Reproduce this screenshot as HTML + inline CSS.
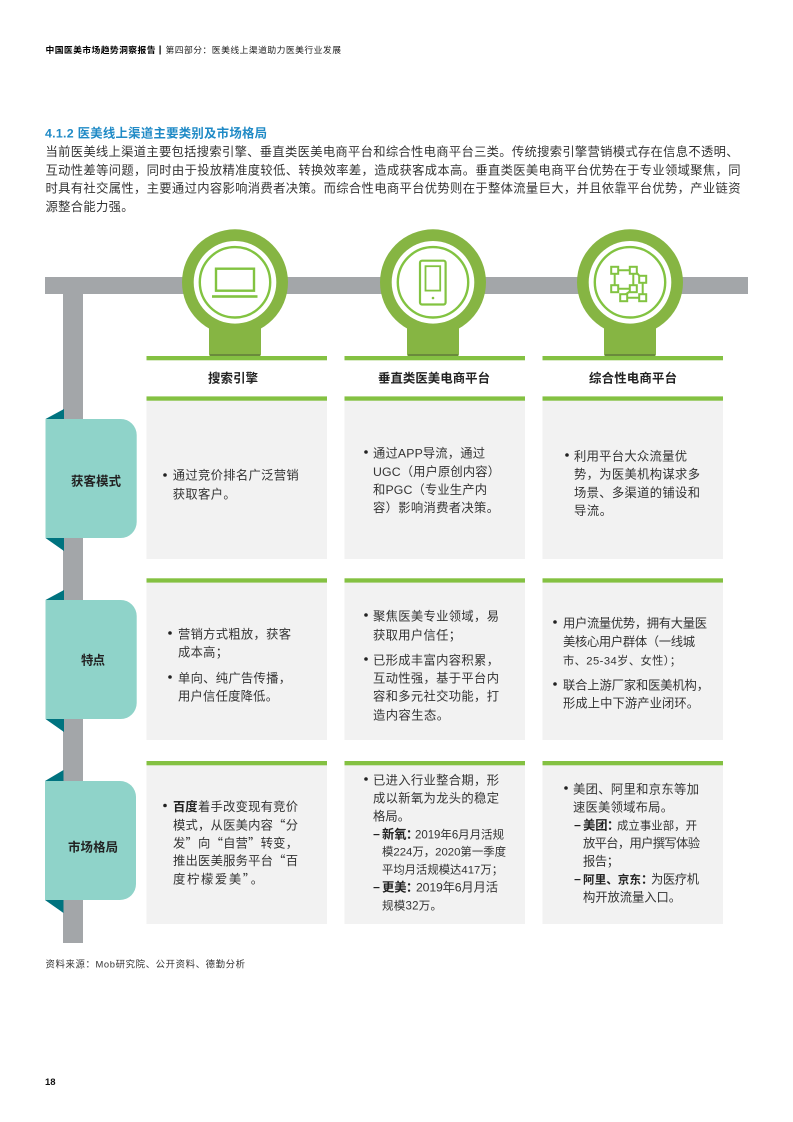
<!DOCTYPE html>
<html lang="zh-CN"><head><meta charset="utf-8"><title>4.1.2</title>
<style>
html,body{margin:0;padding:0;background:#fff}
svg{display:block}
text{font-family:"Liberation Sans","Noto Sans CJK SC",sans-serif;font-size:12.3px;fill:#333;white-space:pre}
.b{font-weight:700;fill:#222}
.h{font-weight:700;fill:#222;font-size:12.4px}
.cn{font-family:"Noto Sans CJK SC",sans-serif}
</style></head><body>
<svg xmlns="http://www.w3.org/2000/svg" width="793" height="1122" viewBox="0 0 793 1122">
<rect width="793" height="1122" fill="#fff"/>
<!-- header -->
<text x="45.5" y="53" class="b" style="font-size:8.8px;fill:#000" textLength="110">中国医美市场趋势洞察报告</text>
<rect x="159.5" y="45.5" width="1.2" height="9" fill="#000"/>
<text x="165.5" y="53" style="font-size:8.8px;fill:#222" textLength="175.5">第四部分：医美线上渠道助力医美行业发展</text>
<text x="45" y="137.5" class="b" style="font-size:12.4px;fill:#1f8ac6" textLength="222">4.1.2 医美线上渠道主要类别及市场格局</text>
<!-- intro -->
<text x="45.5" y="156" textLength="693">当前医美线上渠道主要包括搜索引擎、垂直类医美电商平台和综合性电商平台三类。传统搜索引擎营销模式存在信息不透明、</text>
<text x="45.5" y="174.3" textLength="695">互动性差等问题，同时由于投放精准度较低、转换效率差，造成获客成本高。垂直类医美电商平台优势在于专业领域聚焦，同</text>
<text x="45.5" y="192.6" textLength="695">时具有社交属性，主要通过内容影响消费者决策。而综合性电商平台优势则在于整体流量巨大，并且依靠平台优势，产业链资</text>
<text x="45.5" y="211" textLength="88">源整合能力强。</text>
<!-- bars -->
<rect x="45" y="277" width="703" height="17" fill="#a3a6a9"/>
<rect x="63" y="294" width="20" height="649" fill="#a3a6a9"/>
<!-- panels -->
<g fill="#f2f2f2">
<rect x="146.5" y="400" width="180.5" height="159"/><rect x="344.5" y="400" width="180.5" height="159"/><rect x="542.5" y="400" width="180.5" height="159"/>
<rect x="146.5" y="580" width="180.5" height="160"/><rect x="344.5" y="580" width="180.5" height="160"/><rect x="542.5" y="580" width="180.5" height="160"/>
<rect x="146.5" y="763" width="180.5" height="161"/><rect x="344.5" y="763" width="180.5" height="161"/><rect x="542.5" y="763" width="180.5" height="161"/>
</g>
<g fill="#84c142">
<rect x="146.5" y="356" width="180.5" height="4.3"/><rect x="344.5" y="356" width="180.5" height="4.3"/><rect x="542.5" y="356" width="180.5" height="4.3"/>
<rect x="146.5" y="396.4" width="180.5" height="4.3"/><rect x="344.5" y="396.4" width="180.5" height="4.3"/><rect x="542.5" y="396.4" width="180.5" height="4.3"/>
<rect x="146.5" y="578.3" width="180.5" height="4.3"/><rect x="344.5" y="578.3" width="180.5" height="4.3"/><rect x="542.5" y="578.3" width="180.5" height="4.3"/>
<rect x="146.5" y="761" width="180.5" height="4.3"/><rect x="344.5" y="761" width="180.5" height="4.3"/><rect x="542.5" y="761" width="180.5" height="4.3"/>
</g>
<!-- badges -->
<g id="badges">
<g transform="translate(235,282.3)"><circle r="53" fill="#86b543"/><rect x="-26" y="30" width="52" height="43.7" rx="1.5" fill="#86b543"/><rect x="-25" y="71.7" width="50" height="2" fill="#6a8a3c"/><circle r="41.3" fill="#fff"/><circle r="35.2" fill="none" stroke="#82c341" stroke-width="2.4"/></g>
<g transform="translate(433,282.3)"><circle r="53" fill="#86b543"/><rect x="-26" y="30" width="52" height="43.7" rx="1.5" fill="#86b543"/><rect x="-25" y="71.7" width="50" height="2" fill="#6a8a3c"/><circle r="41.3" fill="#fff"/><circle r="35.2" fill="none" stroke="#82c341" stroke-width="2.4"/></g>
<g transform="translate(630,282.3)"><circle r="53" fill="#86b543"/><rect x="-26" y="30" width="52" height="43.7" rx="1.5" fill="#86b543"/><rect x="-25" y="71.7" width="50" height="2" fill="#6a8a3c"/><circle r="41.3" fill="#fff"/><circle r="35.2" fill="none" stroke="#82c341" stroke-width="2.4"/></g>
</g>
<!-- laptop -->
<rect x="216" y="268.7" width="38" height="22" fill="none" stroke="#82c341" stroke-width="2.4"/>
<rect x="212" y="295.2" width="45.5" height="2.6" fill="#82c341"/>
<!-- phone -->
<rect x="420" y="260.7" width="25.6" height="43.8" rx="2" fill="none" stroke="#82c341" stroke-width="2.2"/>
<rect x="425.5" y="266.2" width="14.7" height="24.4" fill="none" stroke="#82c341" stroke-width="1.8"/>
<circle cx="433" cy="298" r="1.3" fill="#82c341"/>
<!-- network -->
<g fill="none" stroke="#82c341" stroke-width="2">
<path d="M618 270.3H630M614.7 274V285M633.3 274V285M618 288.7H630M636.5 272.5L640 276.5M642.7 283V294M627 297.7H639M625.5 294.5L630.5 291"/>
<rect x="611.2" y="266.8" width="7" height="7" fill="#fff" stroke-width="2"/><rect x="629.8" y="266.8" width="7" height="7" fill="#fff" stroke-width="2"/><rect x="639.2" y="275.8" width="7" height="7" fill="#fff" stroke-width="2"/><rect x="611.2" y="285.2" width="7" height="7" fill="#fff" stroke-width="2"/><rect x="629.8" y="285.2" width="7" height="7" fill="#fff" stroke-width="2"/><rect x="620.2" y="294.2" width="7" height="7" fill="#fff" stroke-width="2"/><rect x="639.2" y="294.2" width="7" height="7" fill="#fff" stroke-width="2"/>
</g>
<!-- column headings -->
<text x="208" y="382.5" class="h" textLength="50">搜索引擎</text>
<text x="378" y="382.5" class="h" textLength="112">垂直类医美电商平台</text>
<text x="589" y="382.5" class="h" textLength="88">综合性电商平台</text>
<!-- side labels -->
<g fill="#00737f">
<path d="M45.5 419L64 409V419Z"/><path d="M45.5 538L64 538V551Z"/>
<path d="M45.5 600L64 590V600Z"/><path d="M45.5 719L64 719V732Z"/>
<path d="M45 781L63.5 770V781Z"/><path d="M45 900L63.5 900V913Z"/>
</g>
<g fill="#8fd3c9">
<path d="M45.5 419H120.5A16 16 0 0 1 136.7 435V522A16 16 0 0 1 120.5 538H45.5Z"/>
<path d="M45.5 600H120.5A16 16 0 0 1 136.7 616V703A16 16 0 0 1 120.5 719H45.5Z"/>
<path d="M45 781H120A16 16 0 0 1 136 797V884A16 16 0 0 1 120 900H45Z"/>
</g>
<text x="71" y="485.5" class="h" textLength="50">获客模式</text>
<text x="81" y="664.5" class="h" textLength="24">特点</text>
<text x="68" y="851.5" class="h" textLength="50">市场格局</text>
<!-- bullets -->
<g fill="#222">
<circle cx="165" cy="475" r="1.8"/><circle cx="366" cy="452" r="1.8"/><circle cx="567" cy="455" r="1.8"/>
<circle cx="170" cy="633" r="1.8"/><circle cx="170" cy="677" r="1.8"/>
<circle cx="366" cy="615" r="1.8"/><circle cx="366" cy="659" r="1.8"/>
<circle cx="555" cy="622" r="1.8"/><circle cx="555" cy="684" r="1.8"/>
<circle cx="165" cy="805.5" r="1.8"/><circle cx="366" cy="779" r="1.8"/><circle cx="566" cy="788" r="1.8"/>
<rect x="373.5" y="834" width="6" height="1.2"/><rect x="373.5" y="887" width="6" height="1.2"/>
<rect x="574.5" y="825" width="6" height="1.2"/><rect x="574.5" y="879" width="6" height="1.2"/>
</g>
<!-- row 1 -->
<text x="172.7" y="479.6" textLength="126">通过竞价排名广泛营销</text>
<text x="172.7" y="498.3" textLength="63">获取客户。</text>
<text x="373" y="457.3" textLength="112">通过APP导流，通过</text>
<text x="373" y="476" textLength="127">UGC（用户原创内容）</text>
<text x="373" y="493.8" textLength="114">和PGC（专业生产内</text>
<text x="373" y="512" textLength="126">容）影响消费者决策。</text>
<text x="574" y="460.3" textLength="113">利用平台大众流量优</text>
<text x="574" y="478.6" textLength="126">势，为医美机构谋求多</text>
<text x="574" y="496.9" textLength="126">场景、多渠道的铺设和</text>
<text x="574" y="515.2" textLength="38">导流。</text>
<!-- row 2 -->
<text x="178" y="638.3" textLength="113">营销方式粗放，获客</text>
<text x="178" y="656.6" textLength="50">成本高；</text>
<text x="178" y="682.3" textLength="113">单向、纯广告传播，</text>
<text x="178" y="700.6" textLength="100">用户信任度降低。</text>
<text x="373" y="620.3" textLength="126">聚焦医美专业领域，易</text>
<text x="373" y="639.3" textLength="88">获取用户信任；</text>
<text x="373" y="664.3" textLength="126">已形成丰富内容积累，</text>
<text x="373" y="682.6" textLength="126">互动性强，基于平台内</text>
<text x="373" y="700.6" textLength="126">容和多元社交功能，打</text>
<text x="373" y="719.3" textLength="76">造内容生态。</text>
<text x="563" y="627.3" textLength="144">用户流量优势，拥有大量医</text>
<text x="563" y="646" textLength="132">美核心用户群体（一线城</text>
<text x="563" y="664.3" style="font-size:11.2px" textLength="118">市、25-34岁、女性）；</text>
<text x="563" y="689.3" textLength="146">联合上游厂家和医美机构，</text>
<text x="563" y="707.6" textLength="136">形成上中下游产业闭环。</text>
<!-- row 3 col 1 -->
<text x="173" y="811" class="b" textLength="24.5">百度</text>
<text x="198" y="811" textLength="100">着手改变现有竞价</text>
<text x="173" y="829.3" class="cn" textLength="125">模式，从医美内容“分</text>
<text x="173" y="847.6" class="cn" textLength="125">发”向“自营”转变，</text>
<text x="173" y="865" class="cn" textLength="125">推出医美服务平台“百</text>
<text x="173" y="883.3" class="cn" textLength="90">度柠檬爱美”。</text>
<!-- row 3 col 2 -->
<text x="373" y="784.3" textLength="126">已进入行业整合期，形</text>
<text x="373" y="802.3" textLength="126">成以新氧为龙头的稳定</text>
<text x="373" y="820.3" textLength="37">格局。</text>
<text x="382" y="838.3" class="b" textLength="24.5">新氧</text>
<text x="406" y="838.3" class="b">：</text>
<text x="415" y="838.3" style="font-size:11.5px" textLength="89">2019年6月月活规</text>
<text x="382" y="855.6" style="font-size:11.4px" textLength="124">模224万，2020第一季度</text>
<text x="382" y="873.6" style="font-size:11.3px" textLength="121">平均月活规模达417万；</text>
<text x="382" y="891.3" class="b" textLength="24.5">更美</text>
<text x="406" y="891.3" class="b">：</text>
<text x="416" y="891.3" textLength="82">2019年6月月活</text>
<text x="382" y="909.3" style="font-size:11.5px" textLength="60">规模32万。</text>
<!-- row 3 col 3 -->
<text x="573" y="793.3" textLength="126">美团、阿里和京东等加</text>
<text x="573" y="811.3" textLength="100">速医美领域布局。</text>
<text x="583" y="829.3" class="b" textLength="24.5">美团</text>
<text x="607" y="829.3" class="b">：</text>
<text x="617" y="829.3" style="font-size:11.4px" textLength="80">成立事业部，开</text>
<text x="583" y="847.6" textLength="117">放平台，用户撰写体验</text>
<text x="583" y="865.3" textLength="36">报告；</text>
<text x="583" y="883.3" class="b" style="font-size:11.6px" textLength="58">阿里、京东</text>
<text x="641" y="883.3" class="b">：</text>
<text x="651" y="883.3" textLength="48">为医疗机</text>
<text x="583" y="901.3" textLength="98">构开放流量入口。</text>
<!-- footer -->
<text x="45.5" y="967.5" style="font-size:9.4px" textLength="199.5">资料来源：Mob研究院、公开资料、德勤分析</text>
<text x="45" y="1085" class="b" style="font-size:9.5px;fill:#111" textLength="10.5">18</text>
</svg>
</body></html>
